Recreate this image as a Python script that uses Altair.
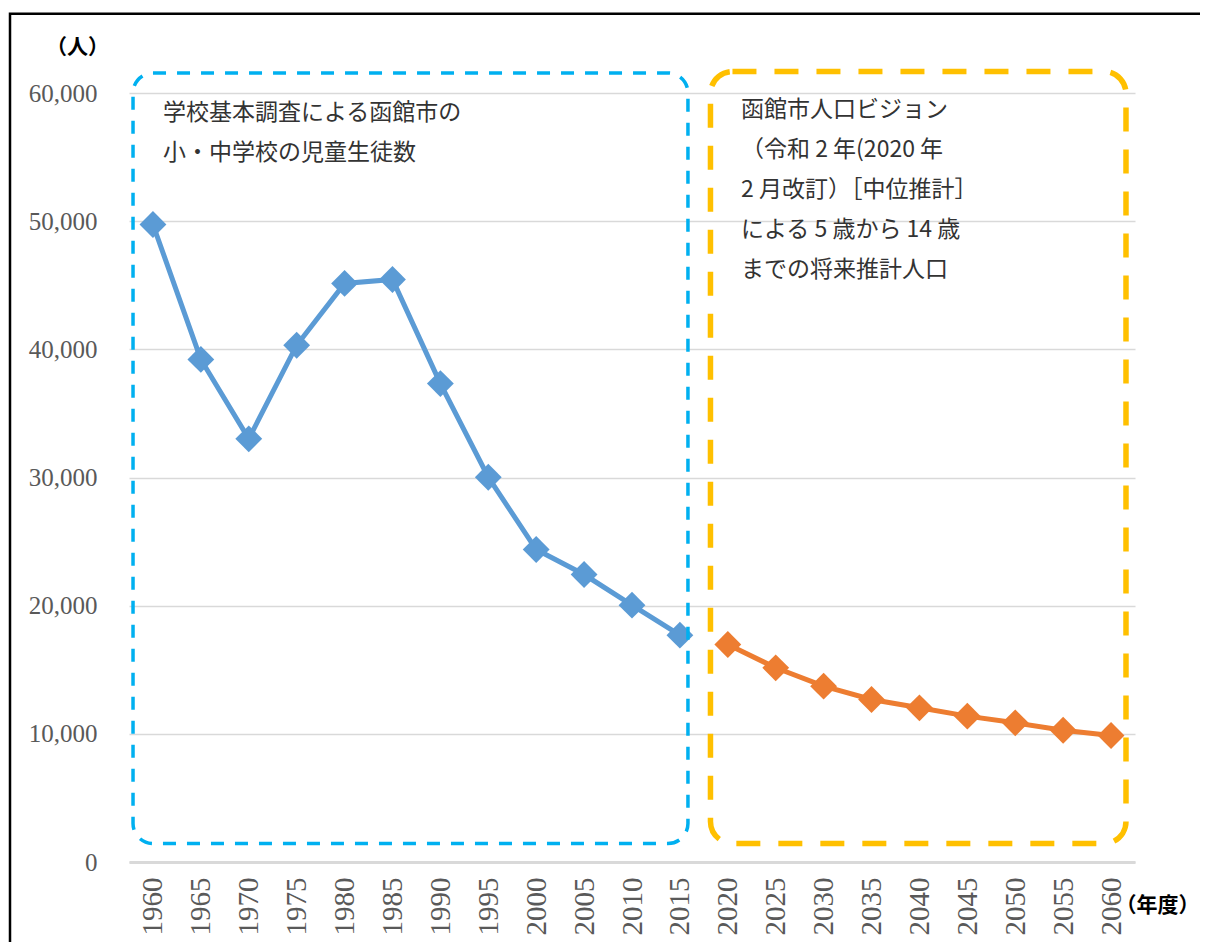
import altair as alt
import pandas as pd

# ---- data ----
years_actual = [1960, 1965, 1970, 1975, 1980, 1985, 1990, 1995, 2000, 2005, 2010, 2015]
students = [49740, 39210, 33020, 40320, 45140, 45450, 37330, 30020, 24380, 22430, 20040, 17700]
years_proj = [2020, 2025, 2030, 2035, 2040, 2045, 2050, 2055, 2060]
projection = [16970, 15150, 13720, 12680, 12030, 11380, 10860, 10280, 9870]
series_names = ["児童生徒数", "将来推計人口"]
x_ticks = list(range(1960, 2061, 5))
y_ticks = [0, 10000, 20000, 30000, 40000, 50000, 60000]

blue_lines = ["学校基本調査による函館市の", "小・中学校の児童生徒数"]
orange_lines = ["函館市人口ビジョン", "（令和 2 年(2020 年", "2 月改訂）［中位推計］",
                "による 5 歳から 14 歳", "までの将来推計人口"]

df = pd.DataFrame({
    "year": years_actual + years_proj,
    "value": students + projection,
    "series": [series_names[0]] * len(years_actual) + [series_names[1]] * len(years_proj),
})

# annotation boxes (in data units)
boxes = pd.DataFrame({
    "name": ["blue", "orange"],
    "x0": [1957.92, 2018.19],
    "x1": [2015.84, 2061.56],
    "y0": [1443, 1443],
    "y1": [61560, 61675],
})

line_step = 3121
blue_txt = pd.DataFrame({
    "t": blue_lines,
    "x": [1961.05] * len(blue_lines),
    "y": [58455 - i * line_step for i in range(len(blue_lines))],
})
orange_txt = pd.DataFrame({
    "t": orange_lines,
    "x": [2021.38] * len(orange_lines),
    "y": [58711 - i * line_step for i in range(len(orange_lines))],
})

xscale = alt.Scale(domain=[1957.5, 2062.5], nice=False, zero=False)
yscale = alt.Scale(domain=[0, 60000], nice=False)
cscale = alt.Scale(domain=series_names, range=["#5B9BD5", "#ED7D31"])

x_axis = alt.Axis(
    values=x_ticks, labelExpr="format(datum.value, 'd')", labelAngle=-90, grid=False, ticks=False,
    domain=True, domainColor="#D9D9D9", domainWidth=3,
    labelFont="Liberation Serif", labelFontSize=29, labelColor="#595959",
    labelPadding=15, labelAlign="right", labelBaseline="middle",
    title="（年度）", titleAngle=0, titleX=1028, titleY=43.5,
    titleFont="Noto Sans CJK JP", titleFontSize=21, titleFontWeight="bold",
    titleColor="black", titleAlign="center", titleBaseline="middle",
)
y_axis = alt.Axis(
    values=y_ticks, labelExpr="format(datum.value, ',')", grid=True,
    gridColor="#D9D9D9", gridWidth=1.5,
    domain=False, ticks=False,
    labelFont="Liberation Serif", labelFontSize=25, labelColor="#595959",
    labelPadding=32,
    title="（人）", titleAngle=0, titleX=-52, titleY=-46,
    titleFont="Noto Sans CJK JP", titleFontSize=21, titleFontWeight="bold",
    titleColor="black", titleAlign="center", titleBaseline="middle",
)

lines = alt.Chart(df).mark_line(strokeWidth=5).encode(
    x=alt.X("year:Q", scale=xscale, axis=x_axis),
    y=alt.Y("value:Q", scale=yscale, axis=y_axis),
    color=alt.Color("series:N", scale=cscale, legend=None),
    detail="series:N",
)
points = alt.Chart(df).mark_point(shape="diamond", filled=True, size=720, opacity=1).encode(
    x=alt.X("year:Q", scale=xscale, axis=x_axis),
    y=alt.Y("value:Q", scale=yscale, axis=y_axis),
    color=alt.Color("series:N", scale=cscale, legend=None),
)

blue_box = alt.Chart(boxes[boxes.name == "blue"]).mark_rect(
    fill=None, stroke="#00B0F0", strokeWidth=3.5, strokeDash=[13, 11], cornerRadius=20
).encode(
    x=alt.X("x0:Q", scale=xscale, axis=x_axis), x2="x1:Q",
    y=alt.Y("y0:Q", scale=yscale, axis=y_axis), y2="y1:Q",
)
orange_box = alt.Chart(boxes[boxes.name == "orange"]).mark_rect(
    fill=None, stroke="#FFC000", strokeWidth=5.5, strokeDash=[24, 18], cornerRadius=22
).encode(
    x=alt.X("x0:Q", scale=xscale, axis=x_axis), x2="x1:Q",
    y=alt.Y("y0:Q", scale=yscale, axis=y_axis), y2="y1:Q",
)

def text_layer(d):
    return alt.Chart(d).mark_text(
        align="left", baseline="middle", font="Noto Sans CJK JP",
        fontSize=23, color="#333333",
    ).encode(
        x=alt.X("x:Q", scale=xscale, axis=x_axis),
        y=alt.Y("y:Q", scale=yscale, axis=y_axis),
        text="t:N",
    )

frame = alt.Chart(pd.DataFrame({"a": [0]})).mark_rect(
    fill=None, stroke="black", strokeWidth=2.5
).encode(
    x=alt.value(-119), x2=alt.value(1300),
    y=alt.value(-79.3), y2=alt.value(1000),
)

chart = alt.layer(
    lines, points, blue_box, orange_box, text_layer(blue_txt), text_layer(orange_txt), frame
).properties(
    width=1006, height=769,
    autosize="none",
    padding={"left": 121, "top": 85, "right": 65, "bottom": 80},
    background="white",
).configure_view(stroke=None)

chart.save("out.html", embed_options={"renderer": "svg", "actions": False})
